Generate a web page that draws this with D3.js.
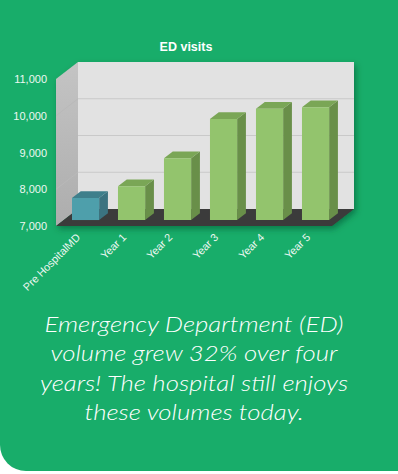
<!DOCTYPE html>
<html>
<head>
<meta charset="utf-8">
<script src="https://cdn.jsdelivr.net/npm/d3@7"></script>
<style>
  html, body { margin: 0; padding: 0; background: #fff; }
  svg { display: block; }
</style>
</head>
<body>
<svg id="chart"></svg>
<script>
// data
const categories = ['Pre HospitalMD', 'Year 1', 'Year 2', 'Year 3', 'Year 4', 'Year 5'];
const visits = [7600, 7920, 8680, 9750, 10030, 10070];
const yTicks = [7000, 8000, 9000, 10000, 11000];
const caption = ['Emergency Department (ED)', 'volume grew 32% over four', 'years! The hospital still enjoys', 'these volumes today.'];

const width = 398, height = 474;
const depthX = 22, depthY = -17;   // offset of the back wall
const z0 = 0.35, z1 = 0.75;        // bar depth inside the box

const svg = d3.select('#chart').attr('width', width).attr('height', height);

const defs = svg.append('defs');
const sh = defs.append('filter').attr('id', 'shadow')
  .attr('x', '-10%').attr('y', '-10%').attr('width', '130%').attr('height', '130%');
sh.append('feDropShadow').attr('dx', 2).attr('dy', 3).attr('stdDeviation', 3)
  .attr('flood-color', '#06502e').attr('flood-opacity', 0.55);
const sideGrad = defs.append('linearGradient').attr('id', 'side')
  .attr('x1', 0).attr('x2', 0).attr('y1', 0).attr('y2', 1);
sideGrad.append('stop').attr('offset', 0).attr('stop-color', '#c4c4c4');
sideGrad.append('stop').attr('offset', 1).attr('stop-color', '#adadad');

// green card, rounded bottom-left
const r = 26, cardBottom = 471;
svg.append('path')
  .attr('d', `M0,0 H${width} V${cardBottom} H${r} A${r},${r} 0 0 1 0,${cardBottom - r} Z`)
  .attr('fill', '#18ad6a');

const x = d3.scaleBand().domain(categories).range([56, 332]).padding(0);
const y = d3.scaleLinear().domain([7000, 11000]).range([226, 79]);

const P = (px, v, z) => [px + z * depthX, y(v) + z * depthY];
const poly = pts => 'M' + pts.map(p => p.join(',')).join('L') + 'Z';

const box = svg.append('g').attr('filter', 'url(#shadow)');
const [x0, x1] = x.range();
const [vMin, vMax] = y.domain();

// back wall
box.append('path')
  .attr('d', poly([P(x0, vMin, 1), P(x1, vMin, 1), P(x1, vMax, 1), P(x0, vMax, 1)]))
  .attr('fill', '#e2e2e2');
// left wall
box.append('path')
  .attr('d', poly([P(x0, vMin, 0), P(x0, vMax, 0), P(x0, vMax, 1), P(x0, vMin, 1)]))
  .attr('fill', 'url(#side)');
// floor
box.append('path')
  .attr('d', poly([P(x0, vMin, 0), P(x1, vMin, 0), P(x1, vMin, 1), P(x0, vMin, 1)]))
  .attr('fill', '#3a3a3a');

const grid = svg.append('g');
yTicks.filter(v => v > vMin && v < vMax).forEach(v => {
  const a = P(x0, v, 1), b = P(x1, v, 1), c = P(x0, v, 0);
  grid.append('line').attr('x1', a[0]).attr('y1', a[1]).attr('x2', b[0]).attr('y2', b[1])
    .attr('stroke', '#c9c9c9').attr('stroke-width', 1);
  grid.append('line').attr('x1', c[0]).attr('y1', c[1]).attr('x2', a[0]).attr('y2', a[1])
    .attr('stroke', '#b9b9b9').attr('stroke-width', 1);
});

// bars
const colors = i => i === 0
  ? { front: '#4e9fab', top: '#3e7f8b', side: '#3b7380' }
  : { front: '#93c46d', top: '#7aa656', side: '#698f49' };
const barW = x.bandwidth() * 0.59, barOff = x.bandwidth() * 0.18;

const bars = svg.append('g').selectAll('g').data(categories).join('g');
bars.each(function (cat, i) {
  const g = d3.select(this), c = colors(i), v = visits[i];
  const bx0 = x(cat) + barOff, bx1 = bx0 + barW;
  g.append('path')
    .attr('d', poly([P(bx1, vMin, z0), P(bx1, v, z0), P(bx1, v, z1), P(bx1, vMin, z1)]))
    .attr('fill', c.side);
  g.append('path')
    .attr('d', poly([P(bx0, v, z0), P(bx1, v, z0), P(bx1, v, z1), P(bx0, v, z1)]))
    .attr('fill', c.top);
  g.append('path')
    .attr('d', poly([P(bx0, vMin, z0), P(bx1, vMin, z0), P(bx1, v, z0), P(bx0, v, z0)]))
    .attr('fill', c.front);
});

// y axis labels
svg.append('g').selectAll('text').data(yTicks).join('text')
  .attr('x', 47).attr('y', d => y(d) + 4)
  .attr('text-anchor', 'end')
  .attr('font-family', 'Liberation Sans, Arial, sans-serif')
  .attr('font-size', 11).attr('fill', '#eef8f2')
  .text(d => d3.format(',')(d));

// x axis labels
svg.append('g').selectAll('text').data(categories).join('text')
  .attr('transform', d => `translate(${x(d) + x.bandwidth() / 2 + 2},${238}) rotate(-45)`)
  .attr('text-anchor', 'end')
  .attr('font-family', 'Liberation Sans, Arial, sans-serif')
  .attr('font-size', 10.8).attr('fill', '#eef8f2')
  .text(d => d);

// title
svg.append('text')
  .attr('x', 186).attr('y', 51).attr('text-anchor', 'middle')
  .attr('font-family', 'Liberation Sans, Arial, sans-serif')
  .attr('font-weight', 'bold').attr('font-size', 12.5).attr('fill', '#ffffff')
  .text('ED visits');

// caption, stretched a little to match the wide original face
svg.append('g').attr('transform', 'translate(194,0) scale(1.2,1)')
  .selectAll('text').data(caption).join('text')
  .attr('x', 0).attr('y', (d, i) => 332 + i * 29.3)
  .attr('text-anchor', 'middle')
  .attr('font-family', 'Lato, Open Sans, sans-serif')
  .attr('font-style', 'italic').attr('font-weight', 300)
  .attr('font-size', 21.5).attr('fill', '#ffffff')
  .text(d => d);
</script>
</body>
</html>
